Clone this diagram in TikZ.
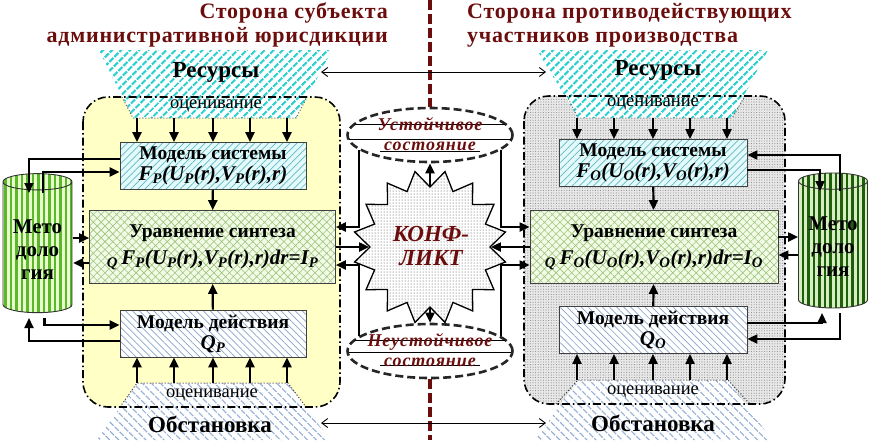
\documentclass[tikz,border=0pt]{standalone}
\usepackage{fontspec}
\setmainfont{Liberation Serif}
\newfontfamily\spacedfont[LetterSpace=5]{Liberation Serif}
\newfontfamily\titlefont[LetterSpace=3.5]{Liberation Serif}
\newcommand{\formulafont}{\fontsize{21}{23}\selectfont\bfseries\itshape}
\usepackage{tikz}
\usetikzlibrary{calc,positioning,shapes.geometric,arrows.meta,patterns.meta}
\definecolor{titlered}{HTML}{6B0D0D}
\definecolor{paleyellow}{HTML}{FFFFC6}
\definecolor{rescyan}{HTML}{2ECFCF}
\definecolor{sysfill}{HTML}{E4FAFA}
\definecolor{syslines}{HTML}{5FB8C8}
\definecolor{synfill}{HTML}{F2FBE6}
\definecolor{synlines}{HTML}{9CC47A}
\definecolor{actlines}{HTML}{88A4CC}
\definecolor{envlines}{HTML}{8CA8D0}
\definecolor{methlight}{HTML}{E6FFCC}
\definecolor{methstripe}{HTML}{5CB82A}
\definecolor{methdark}{HTML}{1F5F0C}
\definecolor{methdarkbg}{HTML}{D6EEC2}

\begin{document}
\begin{tikzpicture}[
  x=1pt, y=-1pt,
  arr/.style={line width=2.2pt, -{Triangle[length=10pt,width=9pt]}},
  thinarr/.style={line width=0.9pt, {Straight Barb[length=6pt,width=9pt]}-{Straight Barb[length=6pt,width=9pt]}},
  redline/.style={titlered, line width=4.5pt, dash pattern=on 10pt off 4pt},
  frame/.style={line width=1.6pt, rounded corners=25pt, dash pattern=on 8pt off 3pt on 1.5pt off 3pt},
  titletext/.style={font=\fontsize{22}{24}\selectfont\titlefont\bfseries, text=titlered, inner sep=0pt},
  restext/.style={font=\fontsize{23}{25}\selectfont\bfseries, inner sep=0pt},
  evaltext/.style={font=\fontsize{18.5}{20}\selectfont, inner sep=0pt},
  model/.style={rectangle, draw=black!75, line width=0.9pt, align=center,
    minimum width=186pt, minimum height=47pt, inner sep=1pt,
    font=\fontsize{19.5}{21}\selectfont\bfseries},
  sysbox/.style={model, preaction={fill=sysfill},
    pattern={Lines[angle=45,distance=5pt,line width=0.7pt]}, pattern color=syslines},
  synbox/.style={model, minimum width=246pt, minimum height=73pt, preaction={fill=synfill},
    pattern={Hatch[angle=45,distance=5.5pt,line width=0.6pt]}, pattern color=synlines},
  actbox/.style={model, preaction={fill=white},
    pattern={Lines[angle=-45,distance=5pt,line width=0.7pt]}, pattern color=actlines},
  method/.style={cylinder, shape border rotate=90, aspect=0.29, draw=black!80, line width=0.9pt,
    minimum width=69pt, align=center, font=\fontsize{21}{23}\selectfont\bfseries,
    pattern={Lines[angle=90,distance=5.5pt,line width=2.2pt]}},
  statebox/.style={ellipse, minimum width=165pt, minimum height=54pt, fill=white,
    draw=black!85, line width=2.6pt, dash pattern=on 8pt off 4pt},
  statetext/.style={font=\fontsize{18}{20}\selectfont\spacedfont\bfseries\itshape, text=titlered, align=center, inner sep=0pt},
]
\useasboundingbox (0,0) rectangle (869,440);

% Dividing line
\node[statebox] (stab) at (430,135) {};
\node[statebox] (unst) at (430,351) {};
\draw[redline] (430,0) -- (stab);
\draw[redline] (unst) -- (430,440);

% Titles
\node[titletext, anchor=north east, align=right] (titleL) at (388,3) {Сторона субъекта\\административной юрисдикции};
\node[titletext, anchor=north west, align=left] (titleR) at (467,3) {Сторона противодействующих\\участников производства};

% Side frames
\path[fill=paleyellow, rounded corners=25pt] (83,97) rectangle (340,407);
\path[preaction={fill=black!9}, pattern={Dots[distance=2.6pt,radius=0.55pt]}, pattern color=black!45, rounded corners=25pt] (524,96) rectangle (785,404);

% Resources and environment
\path[preaction={fill=white}, pattern={Lines[angle=45,distance=6.5pt,line width=2.4pt]}, pattern color=rescyan]
  (99,50) -- (332,50) -- (296,118) -- (133,118) -- cycle;
\path[preaction={fill=white}, pattern={Lines[angle=45,distance=6.5pt,line width=2.4pt]}, pattern color=rescyan]
  (537,50) -- (768,50) -- (732,118) -- (578,118) -- cycle;
\path[preaction={fill=white}, pattern={Lines[angle=-45,distance=6.5pt,line width=1.5pt]}, pattern color=envlines]
  (137,383) -- (288,383) -- (330,440) -- (97,440) -- cycle;
\path[preaction={fill=white}, pattern={Lines[angle=-45,distance=6.5pt,line width=1.5pt]}, pattern color=envlines]
  (578,380) -- (728,380) -- (772,440) -- (535,440) -- cycle;
\draw[dotted, line width=1pt, black!60] (122,97) -- (133,118) -- (296,118) -- (307,97);
\draw[dotted, line width=1pt, black!60] (567,96) -- (578,118) -- (732,118) -- (745,96);
\draw[dotted, line width=1pt, black!75] (120,407) -- (137,383) -- (288,383) -- (306,407);
\draw[dotted, line width=1pt, black!75] (556,404) -- (578,380) -- (728,380) -- (750,404);

\draw[frame] (83,97) rectangle (340,407);
\draw[frame] (524,96) rectangle (785,404);

\node[restext] (resLt) at (216,72) {Ресурсы};
\node[restext] (resRt) at (658,70) {Ресурсы};
\node[evaltext] (evLtop) at (216,106) {оценивание};
\node[evaltext] (evRtop) at (653,104) {оценивание};
\node[evaltext] (evLbot) at (212,395) {оценивание};
\node[evaltext] (evRbot) at (653,392) {оценивание};
\node[restext] (envLt) at (210,424) {Обстановка};
\node[restext] (envRt) at (653,423) {Обстановка};

\coordinate (resLend) at (321,72);
\coordinate (resRend) at (546,72);
\coordinate (envLend) at (321,423);
\coordinate (envRend) at (546,423);
\draw[thinarr] (resLend) -- (resRend);
\draw[thinarr] (envLend) -- (envRend);

% Left side - subject of jurisdiction
\node[sysbox] (sysL) at (213,166) {Модель системы\\{\formulafont F\textsubscript{P}(U\textsubscript{P}(r),V\textsubscript{P}(r),r)}};
\node[synbox] (synL) at (212.5,247) {Уравнение синтеза\\[6pt]{\formulafont\textsubscript{Q}\,F\textsubscript{P}(U\textsubscript{P}(r),V\textsubscript{P}(r),r)dr=I\textsubscript{P}}};
\node[actbox] (actL) at (213,333.5) {Модель действия\\{\formulafont Q\textsubscript{P}}};
\node[method, minimum height=139pt, preaction={fill=methlight}, pattern color=methstripe] (metL) at (37.5,249.5) {Мето\\доло\\гия};

% Right side - opposing participants
\node[sysbox, minimum width=188pt] (sysR) at (653,163) {Модель системы\\{\formulafont F\textsubscript{O}(U\textsubscript{O}(r),V\textsubscript{O}(r),r)}};
\node[synbox, minimum width=248pt] (synR) at (654,247) {Уравнение синтеза\\[6pt]{\formulafont\textsubscript{Q}\,F\textsubscript{O}(U\textsubscript{O}(r),V\textsubscript{O}(r),r)dr=I\textsubscript{O}}};
\node[actbox, minimum width=188pt] (actR) at (653,330) {Модель действия\\{\formulafont Q\textsubscript{O}}};
\node[method, minimum height=135pt, preaction={fill=methdarkbg}, pattern color=methdark] (metR) at (833,246.5) {Мето\\доло\\гия};

% Conflict
\node[star, star points=16, star point ratio=0.78, minimum size=120pt, draw, line width=1.3pt,
  preaction={fill=white}, pattern={Dots[distance=3pt,radius=0.5pt]}, pattern color=black!75] (conf) at (430,247) {};
\node[font=\fontsize{23}{24}\selectfont\bfseries\itshape, text=titlered, align=center] (conft) at (431,246) {КОНФ-\\ЛИКТ};

% States
\draw[line width=0.7pt] ($(stab)+(-75,-11)$) -- ($(stab)+(75,-11)$);
\draw[line width=0.7pt] ($(stab)+(-81,4)$) -- ($(stab)+(81,4)$);
\draw[line width=0.7pt] ($(stab)+(-50,16)$) -- ($(stab)+(50,16)$);
\draw[line width=0.7pt] ($(unst)+(-75,-11)$) -- ($(unst)+(75,-11)$);
\draw[line width=0.7pt] ($(unst)+(-81,1)$) -- ($(unst)+(81,1)$);
\draw[line width=0.7pt] ($(unst)+(-50,14)$) -- ($(unst)+(50,14)$);
\node[statetext] (stabt) at (430,134) {Устойчивое\\состояние};
\node[statetext] (unstt) at (430,350) {Неустойчивое\\состояние};

% Evaluation arrows
\coordinate (resLb) at (213,118);
\coordinate (resRb) at (653,118);
\coordinate (envLb) at (213,383);
\coordinate (envRb) at (653,380);
\foreach \dx in {-76,-39,0,37,74} {
  \draw[arr] ([xshift=\dx pt]resLb) -- ([xshift=\dx pt]sysL.north);
  \draw[arr] ([xshift=\dx pt]envLb) -- ([xshift=\dx pt]actL.south);
  \draw[arr] ([xshift=\dx pt]resRb) -- ([xshift=\dx pt]sysR.north);
  \draw[arr] ([xshift=\dx pt]envRb) -- ([xshift=\dx pt]actR.south);
}

% Inner links
\draw[arr] (sysL) -- (synL);
\draw[arr] (actL) -- (synL);
\draw[arr] (sysR) -- (synR);
\draw[arr] (actR) -- (synR);

% Methodology links
\coordinate (metLtop) at (37.5,193);
\coordinate (metLbot) at (37.5,318);
\draw[arr] ([yshift=7pt]sysL.west) -| ([xshift=-8.5pt]metLtop);
\draw[arr] ([xshift=5.5pt]metLtop) |- ([yshift=-6pt]sysL.west);
\draw[arr] ([yshift=9pt]synL.west -| metL.east) -- ([yshift=9pt]synL.west);
\draw[arr] ([yshift=-16pt]synL.west) -- ([yshift=-16pt]synL.west -| metL.east);
\draw[arr] ([xshift=7pt]metLbot) |- ([yshift=8.5pt]actL.west);
\draw[arr] ([yshift=-7.5pt]actL.west) -| ([xshift=-8.5pt]metLbot);

\coordinate (metRtop) at (833,191);
\coordinate (metRbot) at (833,313);
\draw[arr] ([yshift=-7pt]sysR.east) -| ([xshift=-13pt]metRtop);
\draw[arr] ([xshift=7pt]metRtop) |- ([yshift=8pt]sysR.east);
\draw[arr] ([yshift=10pt]synR.east) -- ([yshift=10pt]synR.east -| metR.west);
\draw[arr] ([yshift=-8pt]synR.east -| metR.west) -- ([yshift=-8pt]synR.east);
\draw[arr] ([yshift=7pt]actR.east) -| ([xshift=-11pt]metRbot);
\draw[arr] ([xshift=7pt]metRbot) |- ([yshift=-9pt]actR.east);

% Conflict links
\draw[arr] (conf) -- (stab);
\draw[arr] (conf) -- (unst);
\draw[arr] (synL.east) -- (conf);
\draw[arr] (synR.west) -- (conf);
\draw[arr] (stab.-168) |- ([yshift=20pt]synL.east);
\draw[arr] (unst.168) |- ([yshift=-18pt]synL.east);
\draw[arr] (stab.-12) |- ([yshift=20pt]synR.west);
\draw[arr] (unst.12) |- ([yshift=-18pt]synR.west);

\end{tikzpicture}
\end{document}
